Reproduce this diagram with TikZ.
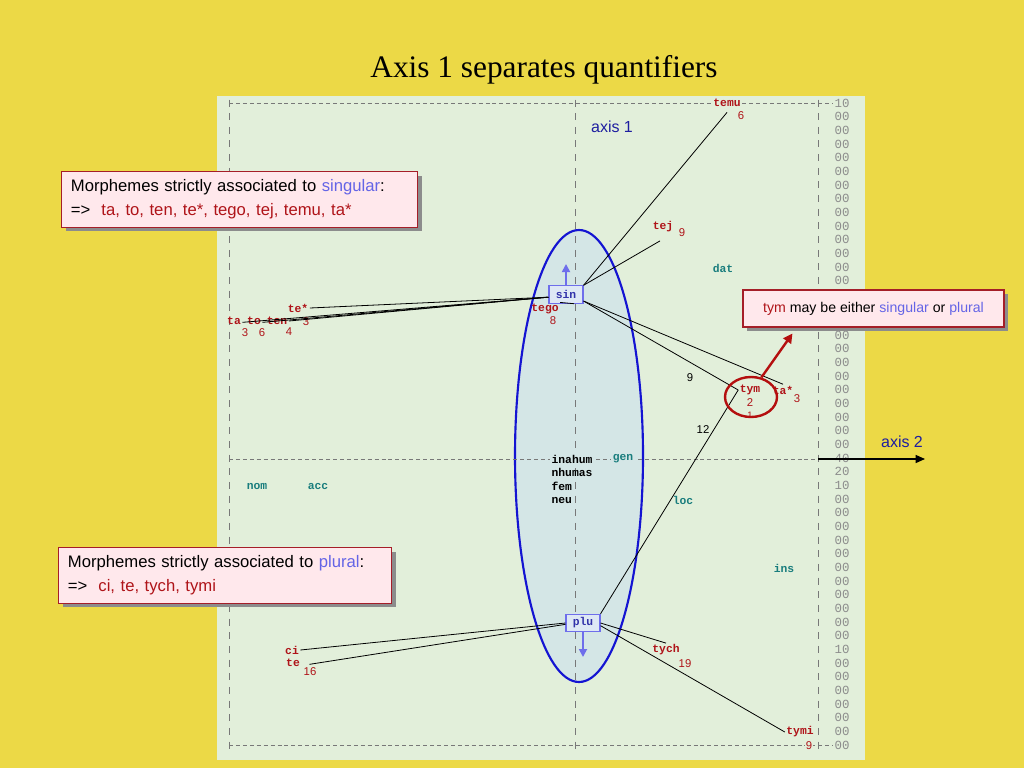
\documentclass[tikz,border=0pt]{standalone}
\usepackage{fontspec}
\setmainfont{Liberation Serif}
\setsansfont{Liberation Sans}
\setmonofont{Liberation Mono}
\usetikzlibrary{arrows.meta,shapes.geometric,shadows,calc}
\definecolor{bgyellow}{RGB}{236,217,70}
\definecolor{panel}{RGB}{226,239,218}
\definecolor{lab}{RGB}{175,20,25}
\definecolor{casecol}{RGB}{25,125,125}
\definecolor{ellblue}{RGB}{20,20,210}
\definecolor{ellfill}{RGB}{212,230,230}
\definecolor{boxblue}{RGB}{110,110,235}
\definecolor{boxfill}{RGB}{222,232,245}
\definecolor{boxtext}{RGB}{50,50,170}
\definecolor{pinkfill}{RGB}{255,232,236}
\definecolor{boxred}{RGB}{165,30,40}
\definecolor{viol}{RGB}{100,100,230}
\definecolor{axblue}{RGB}{30,30,160}
\definecolor{gridcol}{RGB}{120,120,120}
\definecolor{arrred}{RGB}{180,15,15}
\tikzset{
  lbl/.style={font=\ttfamily\bfseries\fontsize{8.5}{9}\selectfont, text=lab, inner sep=1pt},
  num/.style={font=\sffamily\fontsize{8.5}{9}\selectfont, text=lab, inner sep=1pt},
  wt/.style={font=\sffamily\fontsize{8.5}{9}\selectfont, text=black, inner sep=1pt},
  casel/.style={font=\ttfamily\bfseries\fontsize{8.5}{9}\selectfont, text=casecol, inner sep=1pt},
  midl/.style={font=\ttfamily\bfseries\fontsize{8.5}{9}\selectfont, text=black, inner sep=1pt, anchor=west},
  rnum/.style={font=\ttfamily\fontsize{9.3}{10}\selectfont, text=black!45, inner sep=0pt},
  link/.style={draw=black, line width=0.6pt},
  gridh/.style={draw=gridcol, line width=0.5pt, dash pattern=on 3pt off 2.2pt},
  gridv/.style={draw=gridcol, line width=0.5pt},
  numbox/.style={draw=boxblue, fill=boxfill, text=boxtext, font=\ttfamily\bfseries\fontsize{8.5}{9}\selectfont, minimum width=25.5pt, minimum height=13pt, inner sep=1pt, line width=0.8pt},
  blarrow/.style={-{Triangle[length=6pt,width=6pt]}, draw=boxblue, line width=1.3pt},
  note/.style={draw=boxred, fill=pinkfill, line width=0.8pt, align=left,
     drop shadow={shadow xshift=3pt, shadow yshift=-3pt, fill=black!45, opacity=1}},
  axl/.style={font=\sffamily\fontsize{12}{14}\selectfont, text=axblue, inner sep=1pt},
}
\begin{document}
\begin{tikzpicture}[x=0.75pt,y=-0.75pt]
\useasboundingbox (0,0) rectangle (1024,768);
\fill[bgyellow] (0,0) rectangle (1024,768);
\fill[panel] (217,96) rectangle (865,760);
\node[font=\fontsize{23.5}{26}\selectfont] (title) at (544,70) {Axis 1 separates quantifiers};

% big ellipse
\node[ellipse, draw=ellblue, fill=ellfill, line width=1.6pt, minimum width=96pt, minimum height=339pt, inner sep=0pt] (ell) at (579,456) {};

% grid
\draw[gridh] (229,103) -- (833,103);
\draw[gridh] (229,459) -- (833,459);
\draw[gridh] (229,745) -- (833,745);
\foreach \k in {0,...,47}{
  \pgfmathsetmacro{\yy}{103+13.66*\k}
  \draw[gridv] (229,\yy-3.5) -- (229,\yy+3.5);
  \draw[gridv] (575,\yy-3.5) -- (575,\yy+3.5);
  \draw[gridv] (818,\yy-3.5) -- (818,\yy+3.5);
}
\foreach \k/\v in {0/10,1/00,2/00,3/00,4/00,5/00,6/00,7/00,8/00,9/00,10/00,11/00,12/00,13/00,17/00,18/00,19/00,20/00,21/00,22/00,23/00,24/00,25/00,26/40,27/20,28/10,29/00,30/00,31/00,32/00,33/00,34/00,35/00,36/00,37/00,38/00,39/00,40/10,41/00,42/00,43/00,44/00,45/00,46/00,47/00}{
  \node[rnum] (r\k) at (842,{103+13.66*\k}) {\v};
}

% axis labels
\node[axl] (ax1) at (612,127) {axis 1};
\node[axl] (ax2) at (902,442) {axis 2};
\coordinate (ax2a) at (818,459);
\coordinate (ax2b) at (925,459);
\draw[-{Triangle[length=7pt,width=6pt]}, line width=1pt] (ax2a) -- (ax2b);

% case labels
\node[casel] (dat) at (723,268) {dat};
\node[casel] (nom) at (257,486) {nom};
\node[casel] (acc) at (318,486) {acc};
\node[casel, fill=ellfill] (gen) at (623,459) {gen};
\node[casel] (loc) at (683,500) {loc};
\node[casel] (ins) at (784,568) {ins};

% centre labels
\node[midl, fill=ellfill] (inahum) at (550,459) {inahum};
\node[midl] (nhumas) at (550,472) {nhumas};
\node[midl] (fem) at (550,486) {fem};
\node[midl] (neu) at (550,500) {neu};

% morpheme labels
\node[lbl, fill=panel] (temu) at (727,103) {temu};
\node[num] (temun) at (741,116) {6};
\node[lbl] (tej) at (663,227) {tej};
\node[num] (tejn) at (682,233) {9};
\node[lbl] (testar) at (298,308) {te*};
\node[num] (testarn) at (306,322) {3};
\node[lbl] (ta) at (234,321) {ta};
\node[lbl] (to) at (254,321) {to};
\node[lbl] (ten) at (277,321) {ten};
\node[num] (tan) at (245,333) {3};
\node[num] (ton) at (262,333) {6};
\node[num] (tenn) at (289,332) {4};
\node[lbl] (tego) at (545,309) {tego};
\node[num] (tegon) at (553,321) {8};
\node[lbl] (tym) at (750,390) {tym};
\node[num] (tymn) at (750,403) {2};
\node[num, font=\sffamily\fontsize{7}{8}\selectfont] (tymm) at (750,415) {1};
\node[lbl] (tastar) at (783,390) {ta*};
\node[num] (tastarn) at (797,399) {3};
\node[wt] (w9) at (690,378) {9};
\node[wt] (w12) at (703,430) {12};
\node[lbl] (ci) at (292,650) {ci};
\node[lbl] (te) at (293,663) {te};
\node[num] (ten16) at (310,672) {16};
\node[lbl] (tych) at (666,650) {tych};
\node[num] (tychn) at (685,664) {19};
\node[lbl] (tymi) at (800,732) {tymi};
\node[num, fill=panel, inner sep=0.5pt] (tymin) at (809,746) {9};

% sin / plu boxes
\node[numbox] (sin) at (566,294.5) {sin};
\node[numbox] (plu) at (583,623) {plu};
\coordinate (sinup) at (566,264);
\coordinate (pludown) at (583,657);
\draw[blarrow] (sin.north) -- (sinup);
\draw[blarrow] (plu.south) -- (pludown);

% connectors from sin
\draw[link] (sin.north east) -- ([yshift=-3pt]temu.south);
\draw[link] (sin.north east) -- ([shift={(-3,7)}]tej.south);
\draw[link] ([yshift=-2pt]sin.west) -- (testar.east);
\draw[link] ([yshift=-2pt]sin.west) -- ([yshift=-1pt]ta.east);
\draw[link] ([yshift=-2pt]sin.west) -- ([yshift=-1pt]to.east);
\draw[link] ([yshift=-2pt]sin.west) -- ([yshift=0pt]ten.east);
\draw[link] ([xshift=6pt]sin.south) -- (tego.north east);
\draw[link] ([yshift=2pt]sin.south east) -- (tym.west);
\draw[link] ([yshift=2pt]sin.south east) -- (tastar.north);

% connectors from plu
\draw[link] (plu.north east) -- (tym.west);
\draw[link] (plu.west) -- (ci.east);
\draw[link] ([yshift=-1pt]plu.west) -- ([xshift=6pt,yshift=-1pt]te.east);
\draw[link] (plu.east) -- (tych.north);
\draw[link] ([yshift=-2pt]plu.east) -- (tymi.west);

% tym ellipse and arrow
\node[ellipse, draw=arrred, line width=1.8pt, minimum width=39pt, minimum height=30pt, inner sep=0pt] (tymell) at (751,397) {};

% notes
\node[note, anchor=north west, text width=253pt, inner xsep=7pt, inner ysep=6pt,
      font=\sffamily\fontsize{12.5}{18}\selectfont] (n1) at (61,171)
  {Morphemes strictly associated to \textcolor{viol}{singular}:\\=>\ \ \textcolor{lab}{ta, to, ten, te*, tego, tej, temu, ta*}};
\node[note, anchor=north west, text width=236pt, inner xsep=7pt, inner ysep=6pt,
      font=\sffamily\fontsize{12.5}{18}\selectfont] (n2) at (58,547)
  {Morphemes strictly associated to \textcolor{viol}{plural}:\\=>\ \ \textcolor{lab}{ci, te, tych, tymi}};
\node[note, align=center, minimum width=195.75pt, minimum height=27.75pt, inner sep=2pt,
      font=\sffamily\fontsize{10.6}{12}\selectfont] (n3) at (873.5,308.5)
  {\textcolor{lab}{tym} may be either \textcolor{viol}{singular} or \textcolor{viol}{plural}};
\coordinate (tymnote) at ($(n3.south west)+(50,6)$);
\draw[-{Triangle[length=7pt,width=7pt]}, draw=arrred, line width=1.8pt] (tymell.62) -- (tymnote);
\end{tikzpicture}
\end{document}
